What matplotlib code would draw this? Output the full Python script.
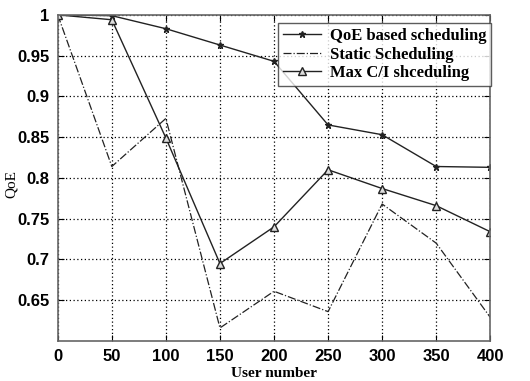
import matplotlib
matplotlib.use("Agg")
import matplotlib.pyplot as plt

users = [0, 50, 100, 150, 200, 250, 300, 350, 400]
qoe_based = [1.0, 0.999, 0.983, 0.963, 0.943, 0.865, 0.853, 0.814, 0.813]
static_sched = [1.0, 0.814, 0.873, 0.616, 0.661, 0.636, 0.768, 0.72, 0.629]
max_ci = [1.0, 0.994, 0.849, 0.695, 0.740, 0.810, 0.787, 0.766, 0.734]

xticks = [0, 50, 100, 150, 200, 250, 300, 350, 400]
yticks = [0.65, 0.7, 0.75, 0.8, 0.85, 0.9, 0.95, 1.0]
ytick_labels = ["0.65", "0.7", "0.75", "0.8", "0.85", "0.9", "0.95", "1"]

fig = plt.figure(figsize=(5.30, 3.81), dpi=100)
ax = fig.add_axes([0.109, 0.105, 0.816, 0.856])

c = "#222222"
ax.plot(users, qoe_based, "-", color=c, lw=1.0, marker="*", ms=5,
        mfc=c, mec=c, label="QoE based scheduling")
ax.plot(users, static_sched, "-.", color=c, lw=0.9, label="Static Scheduling")
ax.plot(users, max_ci, "-", color=c, lw=1.0, marker="^", ms=6,
        mfc="#dddddd", mec=c, label="Max C/I shceduling")

ax.set_xlim(0, 400)
ax.set_ylim(0.6, 1.0)
ax.set_xticks(xticks)
ax.set_xticklabels([str(v) for v in xticks])
ax.set_yticks(yticks)
ax.set_yticklabels(ytick_labels)
ax.grid(True, color="black", linestyle=(0, (1, 2)), linewidth=0.9)
for lab in ax.get_xticklabels() + ax.get_yticklabels():
    lab.set_fontfamily("Liberation Sans")
    lab.set_fontweight("bold")
    lab.set_fontsize(12)
ax.tick_params(direction="in", length=4, pad=6)
ax.tick_params(top=True, right=True)
for s in ax.spines.values():
    s.set_color("#666666")
    s.set_linewidth(1.2)

ax.set_xlabel("User number", fontfamily="Liberation Serif", fontweight="bold",
              fontsize=11, labelpad=2)
ax.set_ylabel("QoE", fontfamily="Liberation Serif", fontsize=11)
ax.yaxis.set_label_coords(-0.093, 0.48)

leg = ax.legend(loc="upper right", bbox_to_anchor=(1.01, 0.985),
                prop={"family": "Liberation Serif", "weight": "bold", "size": 12},
                frameon=True, fancybox=False, edgecolor="#333333",
                handlelength=2.3, borderpad=0.3, labelspacing=0.15,
                handletextpad=0.5, borderaxespad=0.2)
leg.get_frame().set_linewidth(1.0)

fig.savefig("out.png", dpi=100)
